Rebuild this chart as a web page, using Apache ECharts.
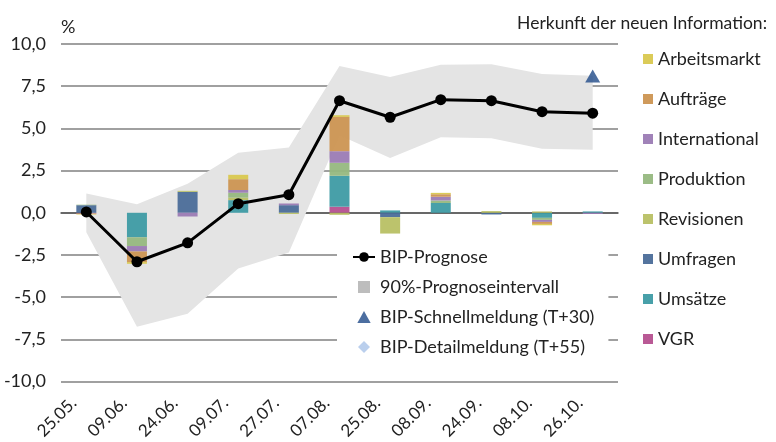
<!DOCTYPE html>
<html><head><meta charset="utf-8">
<script src="https://cdn.jsdelivr.net/npm/echarts@6/dist/echarts.min.js"></script>
<style>html,body{margin:0;padding:0;background:#fff}#c{width:776px;height:442px}</style>
</head><body><div id="c"></div>
<script>
const categories = ['25.05.','09.06.','24.06.','09.07.','27.07.','07.08.','25.08.','08.09.','24.09.','08.10.','26.10.'];
const yTicks = [-10, -7.5, -5, -2.5, 0, 2.5, 5, 7.5, 10];
// contributions by information source
const arbeitsmarkt = [-0.05, -0.10, 0, 0.26, 0, 0.10, 0, 0.08, 0, -0.08, 0];
const auftraege    = [0, -0.63, 0, 0.64, 0, 2.03, 0, 0.15, 0, -0.12, 0];
const international= [0, -0.32, -0.22, 0.16, 0.10, 0.69, 0, 0.22, 0, -0.12, -0.07];
const produktion   = [0.03, -0.52, 0, 0.29, 0, 0.77, 0, 0.15, 0, -0.12, 0];
const revisionen   = [0, 0, 0.06, 0.15, -0.07, -0.12, -0.97, 0, 0.10, 0.08, 0];
const umfragen     = [0.45, 0, 1.24, 0, 0.45, 0, -0.26, 0, -0.10, 0, 0];
const umsaetze     = [0, -1.45, 0, 0.75, 0, 1.83, 0.14, 0.58, 0, -0.30, 0.08];
const vgr          = [-0.05, 0, 0, 0, 0, 0.36, 0, 0, 0, 0, 0];
// forecast line and interval
const bipPrognose = [0.05, -2.90, -1.78, 0.54, 1.07, 6.64, 5.66, 6.70, 6.64, 5.99, 5.90];
const bandUpper   = [1.14, 0.50, 1.72, 3.55, 3.87, 8.70, 8.05, 8.77, 8.80, 8.22, 8.12];
const bandLower   = [-1.15, -6.75, -5.98, -3.30, -2.35, 4.60, 3.24, 4.48, 4.42, 3.79, 3.73];
const schnellmeldung = [null, null, null, null, null, null, null, null, null, null, 8.10];
const detailmeldung  = [null, null, null, null, null, null, null, null, null, null, null];

const FONT = 'Lato';
const FS = 18;
const comp = [
  ['VGR', vgr, '#B5508F'],
  ['Umsätze', umsaetze, '#3E9BA4'],
  ['Umfragen', umfragen, '#4B6D99'],
  ['Revisionen', revisionen, '#B8C064'],
  ['Produktion', produktion, '#96B880'],
  ['International', international, '#9B7BB4'],
  ['Aufträge', auftraege, '#CC9552'],
  ['Arbeitsmarkt', arbeitsmarkt, '#D9C84F']
];
const barSeries = comp.map(([name, data, color]) => ({
  name, type: 'bar', stack: 'src', data, barWidth: 20, z: 2,
  itemStyle: { color, opacity: 0.95 }
}));
const chart = echarts.init(document.getElementById('c'), null, { renderer: 'canvas' });
chart.setOption({
  animation: false,
  textStyle: { fontFamily: FONT },
  title: { text: 'Herkunft der neuen Information:', right: 4, top: 9,
    textStyle: { fontFamily: FONT, fontSize: 17.5, fontWeight: 'normal', color: '#222' } },
  grid: { left: 61, right: 158, top: 44, bottom: 60, containLabel: false },
  legend: [{
    orient: 'vertical', left: 638, top: 45, itemWidth: 10, itemHeight: 10, itemGap: 22,
    icon: 'rect',
    textStyle: { fontFamily: FONT, fontSize: FS, color: '#222' },
    data: ['Arbeitsmarkt','Aufträge','International','Produktion','Revisionen','Umfragen','Umsätze','VGR']
  }, {
    orient: 'vertical', left: 337, top: 238, itemWidth: 22, itemHeight: 12, itemGap: 12,
    backgroundColor: '#fff', padding: [10, 14, 10, 15],
    symbolKeepAspect: true,
    textStyle: { fontFamily: FONT, fontSize: FS, color: '#222' },
    data: [
      { name: 'BIP-Prognose' },
      { name: '90%-Prognoseintervall', icon: 'path://M0,0H10V10H0Z' },
      { name: 'BIP-Schnellmeldung (T+30)', icon: 'path://M5,0L10,9H0Z' },
      { name: 'BIP-Detailmeldung (T+55)', icon: 'path://M5,0L10,5L5,10L0,5Z' }
    ]
  }],
  xAxis: {
    type: 'category', data: categories,
    axisLine: { lineStyle: { color: '#555', width: 1.5 } },
    axisTick: { length: 6, lineStyle: { color: '#555', width: 1.5 } },
    axisLabel: { rotate: 45, margin: 6, padding: [0, 18, 0, 0], fontSize: 17, color: '#222', fontFamily: FONT }
  },
  yAxis: {
    type: 'value', min: yTicks[0], max: yTicks[yTicks.length - 1], interval: 2.5,
    name: '%', nameLocation: 'end', nameGap: 8,
    nameTextStyle: { fontFamily: FONT, fontSize: FS, color: '#222', align: 'left' },
    axisLine: { show: false }, axisTick: { show: false },
    axisLabel: { margin: 15, fontSize: FS, color: '#222', fontFamily: FONT,
      formatter: v => v.toFixed(1).replace('.', ',') },
    splitLine: { lineStyle: { color: '#808080', width: 1.5 } }
  },
  series: [
    { name: 'bandBase', type: 'line', stack: 'band', stackStrategy: 'all', data: bandLower,
      symbol: 'none', lineStyle: { width: 0, opacity: 0 }, silent: true, z: 1 },
    { name: '90%-Prognoseintervall', type: 'line', stack: 'band', stackStrategy: 'all',
      data: bandUpper.map((u, i) => +(u - bandLower[i]).toFixed(3)),
      symbol: 'none', lineStyle: { width: 0, opacity: 0 }, silent: true, z: 1,
      itemStyle: { color: '#BDBDBD' },
      areaStyle: { color: '#E4E4E4', opacity: 1 } },
    ...barSeries,
    { name: 'BIP-Prognose', type: 'line', data: bipPrognose, z: 5,
      symbol: 'circle', symbolSize: 11,
      itemStyle: { color: '#000' }, lineStyle: { color: '#000', width: 3 } },
    { name: 'BIP-Schnellmeldung (T+30)', type: 'scatter', data: schnellmeldung, z: 5,
      symbol: 'triangle', symbolSize: [15, 13], itemStyle: { color: '#1F4A88' } },
    { name: 'BIP-Detailmeldung (T+55)', type: 'scatter', data: detailmeldung, z: 5,
      symbol: 'diamond', symbolSize: 14, itemStyle: { color: '#A9C3E8' } }
  ]
});
</script></body></html>
